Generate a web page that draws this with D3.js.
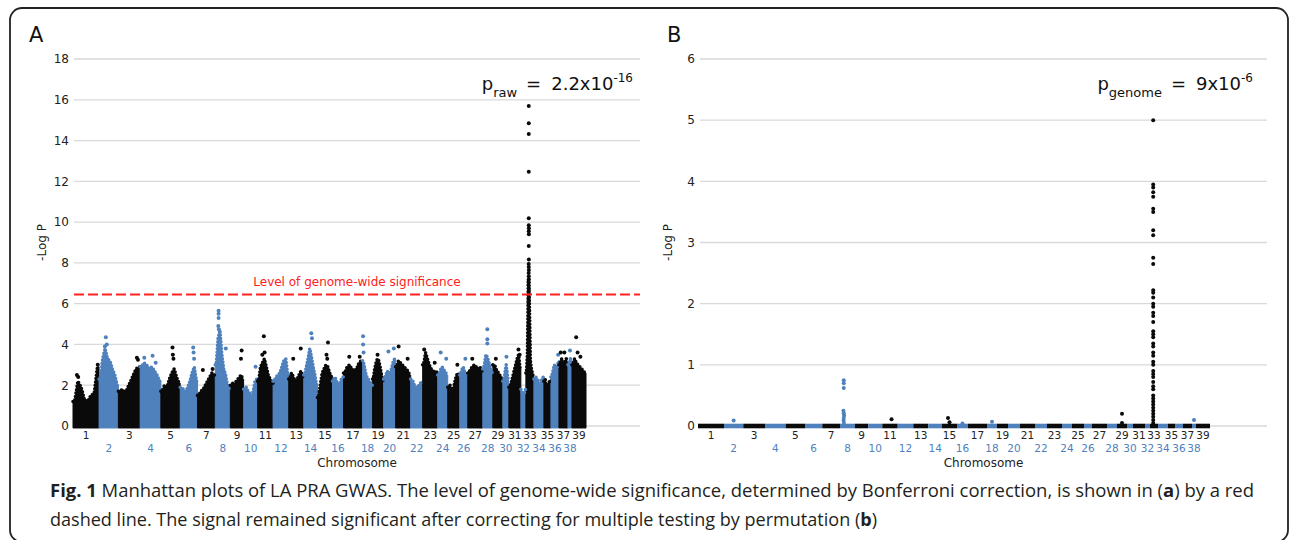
<!DOCTYPE html>
<html lang="en">
  <head>
    <meta charset="utf-8">
    <title>Manhattan plots of LA PRA GWAS</title>
    <style>
      body { margin: 0; background: #fff; }
      svg { display: block; }
      text { font-family: 'DejaVu Sans', Verdana, sans-serif; }
      .caption { font-family: 'Open Sans', 'Noto Sans', sans-serif; font-size: 17.5px; fill: #231f20; }
    </style>
  </head>
  <body>
    <div id="viz"></div>
    <script src="https://d3js.org/d3.v7.min.js"></script>
    <script>
      // chromosome names and their relative width on the genome axis (SNP span)
      const chromNames = d3.range(1, 40).map(String);
      const chromSize = [26, 19.3, 21.7, 20.7, 19.3, 17.3, 17.7, 15, 13.3, 14, 15.4, 15.6, 15, 13.7,
        15, 11, 19, 10, 11, 12, 15, 12, 15, 10, 12, 8, 15, 10, 10, 6, 12, 5, 8, 10, 7, 8, 9, 4, 14];

      // panel A: upper edge of the dense SNP cloud along each chromosome (-log P)
      const envA = [
        [1.2, 2.2, 1.9, 1.3, 1.2, 1.5, 1.6, 2.9],
        [2.3, 3.3, 3.8, 3.3, 3.2, 2.8, 2.5, 2.0],
        [1.7, 1.8, 1.6, 1.9, 2.2, 2.5, 2.8, 2.9],
        [2.9, 3.1, 3.0, 2.8, 2.9, 2.7, 2.5, 2.2],
        [1.7, 2.0, 1.9, 2.3, 2.6, 2.8, 2.4, 2.1],
        [1.9, 1.8, 1.7, 1.9, 2.2, 2.6, 2.9, 2.2],
        [1.5, 1.7, 1.8, 2.0, 2.2, 2.4, 2.6, 2.5],
        [3.0, 4.3, 4.7, 3.5, 2.8, 2.5, 2.0, 1.8],
        [2.0, 2.1, 2.0, 2.2, 2.3, 2.4, 2.5, 2.3],
        [1.8, 1.9, 1.7, 1.6, 1.5, 1.7, 2.2, 2.3],
        [2.2, 2.9, 3.1, 3.3, 2.9, 2.5, 2.3, 2.1],
        [2.2, 2.4, 2.5, 2.6, 2.9, 3.2, 3.3, 2.5],
        [2.3, 2.6, 2.4, 2.2, 2.3, 2.5, 2.7, 2.4],
        [2.5, 2.9, 3.3, 3.8, 3.4, 2.9, 2.5, 2.0],
        [1.4, 2.0, 2.6, 2.8, 3.0, 2.9, 2.6, 2.4],
        [2.2, 2.4, 2.3, 2.1, 2.0, 2.1, 2.3, 2.4],
        [2.6, 2.9, 3.0, 2.8, 2.7, 2.8, 3.1, 3.2],
        [3.2, 2.9, 2.6, 2.4, 2.3, 2.2, 2.1, 2.0],
        [2.3, 2.8, 3.1, 3.3, 3.2, 2.9, 2.5, 2.2],
        [2.3, 2.5, 2.7, 2.5, 2.6, 2.9, 3.2, 3.3],
        [2.9, 3.2, 3.1, 3.0, 2.9, 2.8, 2.7, 2.5],
        [2.3, 2.2, 2.0, 1.9, 1.9, 2.0, 2.1, 2.2],
        [3.0, 3.6, 3.3, 3.0, 2.8, 2.7, 2.6, 2.7],
        [2.5, 2.6, 2.8, 2.9, 2.8, 2.7, 2.6, 2.5],
        [1.9, 2.0, 1.8, 1.7, 2.1, 2.4, 2.6, 2.5],
        [2.5, 2.7, 2.8, 2.9, 2.7, 2.6, 2.5, 2.5],
        [2.6, 2.8, 2.9, 3.0, 2.9, 2.8, 2.9, 2.7],
        [2.8, 3.1, 3.5, 3.4, 3.2, 3.0, 2.8, 2.6],
        [3.0, 3.0, 2.8, 2.7, 2.6, 2.5, 2.4, 2.3],
        [2.2, 2.3, 2.5, 2.8, 3.0, 2.7, 2.4, 2.2],
        [1.9, 2.1, 2.4, 2.7, 3.0, 3.3, 3.5, 2.8],
        [1.8, 1.7, 1.6, 1.5, 1.5, 1.6, 1.7, 1.8],
        [2.6, 3.5, 7.2, 6.0, 3.2, 2.8, 2.6, 2.4],
        [2.3, 2.4, 2.3, 2.2, 2.1, 2.2, 2.3, 2.4],
        [2.2, 2.3, 2.0, 1.9, 2.0, 2.1, 2.2, 2.3],
        [2.4, 2.6, 2.8, 3.0, 2.9, 2.8, 2.9, 3.2],
        [3.0, 3.2, 3.3, 3.1, 3.0, 3.2, 3.3, 3.0],
        [3.0, 3.2, 3.3, 3.1],
        [3.0, 3.3, 3.1, 3.0, 2.9, 2.8, 2.7, 2.6]
      ];

      // panel A: single SNPs standing above the cloud [chromosome, position in chromosome 0-1, -log P]
      const hitsA = [
        [1, 0.15, 2.5], [1, 0.2, 2.4], [1, 0.95, 3.0],
        [2, 0.35, 4.35], [2, 0.4, 4.0], [2, 0.3, 3.9],
        [3, 0.85, 3.35], [3, 0.9, 3.25],
        [4, 0.2, 3.35], [4, 0.6, 3.45], [4, 0.75, 3.1],
        [5, 0.6, 3.85], [5, 0.62, 3.5], [5, 0.65, 3.3],
        [6, 0.75, 3.85], [6, 0.77, 3.6], [6, 0.8, 3.3],
        [7, 0.3, 2.75], [7, 0.85, 2.8],
        [8, 0.22, 5.65], [8, 0.22, 5.5], [8, 0.22, 5.3], [8, 0.2, 4.9], [8, 0.24, 4.75], [8, 0.7, 3.8],
        [9, 0.85, 3.7], [9, 0.8, 3.3],
        [10, 0.85, 2.9],
        [11, 0.4, 4.4], [11, 0.45, 3.6], [11, 0.3, 3.5],
        [13, 0.8, 3.8], [13, 0.3, 3.3],
        [14, 0.55, 4.55], [14, 0.6, 4.3],
        [15, 0.7, 4.1], [15, 0.6, 3.5], [15, 0.65, 3.3],
        [17, 0.3, 3.4], [17, 0.85, 3.4],
        [18, 0.05, 4.4], [18, 0.05, 4.0], [18, 0.1, 3.6],
        [19, 0.45, 3.5],
        [20, 0.4, 3.65], [20, 0.85, 3.8],
        [21, 0.2, 3.9], [21, 0.8, 3.3],
        [23, 0.1, 3.75], [23, 0.8, 3.1],
        [24, 0.3, 3.6], [24, 0.85, 3.3],
        [25, 0.8, 3.0],
        [26, 0.7, 3.3],
        [27, 0.3, 3.3],
        [28, 0.45, 4.75], [28, 0.45, 4.25], [28, 0.45, 4.05],
        [29, 0.3, 3.3],
        [30, 0.6, 3.4],
        [31, 0.8, 3.75], [31, 0.9, 3.5],
        [36, 0.9, 3.5],
        [37, 0.2, 3.6], [37, 0.6, 3.6],
        [38, 0.5, 3.7],
        [39, 0.3, 4.35], [39, 0.4, 3.6], [39, 0.6, 3.4],
        [33, 0.36, 15.69], [33, 0.36, 14.85], [33, 0.36, 14.32], [33, 0.36, 12.47], [33, 0.36, 10.19],
        [33, 0.36, 9.85], [33, 0.37, 9.7], [33, 0.36, 9.55], [33, 0.37, 9.4], [33, 0.36, 8.83],
        [33, 0.37, 8.17], [33, 0.35, 7.95], [33, 0.36, 7.8], [33, 0.37, 7.65], [33, 0.35, 7.5],
        [33, 0.36, 7.35], [33, 0.37, 7.2], [33, 0.36, 7.05], [33, 0.35, 6.9], [33, 0.37, 6.75],
        [33, 0.36, 6.6], [33, 0.35, 6.45], [33, 0.37, 6.3], [33, 0.36, 6.15], [33, 0.35, 6.0]
      ];

      // panel B: genome-wide (permutation) corrected -log P; nearly all SNPs sit at 0
      const chr33B = [5.0, 3.95, 3.9, 3.82, 3.75, 3.55, 3.5, 3.2, 3.12, 2.75, 2.65, 2.22, 2.18, 2.1, 2.0,
        1.95, 1.85, 1.8, 1.7, 1.55, 1.5, 1.45, 1.35, 1.3, 1.2, 1.15, 1.05, 1.0, 0.9, 0.85, 0.8, 0.72,
        0.65, 0.6, 0.5, 0.45, 0.4, 0.35, 0.3, 0.25, 0.2, 0.15, 0.1, 0.05];
      const hitsB = [
        [2, 0.5, 0.09],
        [8, 0.25, 0.75], [8, 0.25, 0.70], [8, 0.25, 0.62], [8, 0.23, 0.25], [8, 0.25, 0.21],
        [8, 0.27, 0.17], [8, 0.25, 0.13], [8, 0.24, 0.09], [8, 0.26, 0.05],
        [11, 0.6, 0.11], [15, 0.4, 0.13], [15, 0.5, 0.06], [16, 0.5, 0.04], [18, 0.5, 0.07],
        [29, 0.5, 0.2], [29, 0.5, 0.05], [38, 0.5, 0.1]
      ].concat(chr33B.map(v => [33, 0.4, v]));

      const yTicksA = d3.range(0, 19, 2);
      const yTicksB = d3.range(0, 7, 1);
      const sigLevel = 6.45;

      const black = "#0a0a0a", blue = "#4f81bd";
      const colorOf = i => (i % 2 === 0 ? black : blue);   // i is 0-based chromosome index

      const starts = chromSize.map((s, i) => d3.sum(chromSize.slice(0, i)));
      const total = d3.sum(chromSize);

      const svg = d3.select("#viz").append("svg")
        .attr("width", 1290).attr("height", 540);

      // figure frame
      svg.append("rect")
        .attr("x", 10).attr("y", 8).attr("width", 1278).attr("height", 534).attr("rx", 12)
        .attr("fill", "none").attr("stroke", "#222").attr("stroke-width", 1.8);

      function panel(o) {
        const g = svg.append("g");
        const x = d3.scaleLinear().domain([0, total]).range(o.xRange);
        const y = d3.scaleLinear().domain(o.yDomain).range([426, 59]);
        const pos = (c, p) => x(starts[c] + p * chromSize[c]);

        g.append("g").selectAll("line").data(o.yTicks).join("line")
          .attr("x1", o.gridX[0]).attr("x2", o.gridX[1])
          .attr("y1", d => y(d)).attr("y2", d => y(d))
          .attr("stroke", "#d9d9d9").attr("stroke-width", 1.3);

        g.append("g").selectAll("text").data(o.yTicks).join("text")
          .attr("x", o.gridX[0] - 5).attr("y", d => y(d)).attr("dy", "0.36em")
          .attr("text-anchor", "end").attr("font-size", 12).attr("fill", "#222")
          .text(d => d);

        g.append("text").attr("transform", `translate(${o.yLabelX},${(y.range()[0] + y.range()[1]) / 2}) rotate(-90)`)
          .attr("text-anchor", "middle").attr("font-size", 12).attr("fill", "#222").text("-Log P");

        g.append("text").attr("x", (o.gridX[0] + o.gridX[1]) / 2).attr("y", 467)
          .attr("text-anchor", "middle").attr("font-size", 12).attr("fill", "#222").text("Chromosome");

        g.append("text").attr("x", o.letterX).attr("y", 42).attr("font-size", 21).attr("fill", "#111").text(o.letter);

        g.append("g").selectAll("text").data(chromNames).join("text")
          .attr("x", (d, i) => pos(i, 0.5))
          .attr("y", (d, i) => (i % 2 === 0 ? 439 : 451.5))
          .attr("text-anchor", "middle").attr("font-size", 10.5)
          .attr("fill", (d, i) => (i % 2 === 0 ? "#222" : blue))
          .text(d => d);

        if (o.env) {
          const toPts = (env, c) => {
            const n = env.length;
            return [[pos(c, 0), env[0]]]
              .concat(env.map((v, j) => [pos(c, (j + 0.5) / n), v]))
              .concat([[pos(c, 1), env[n - 1]]]);
          };
          const area = d3.area().x(d => d[0]).y0(y(0) + 2).y1(d => y(d[1]));
          const top = d3.line().x(d => d[0]).y(d => y(d[1]));
          const cloud = g.append("g");
          cloud.selectAll("path.body").data(o.env).join("path")
            .attr("class", "body")
            .attr("d", (env, c) => area(toPts(env, c)))
            .attr("fill", (d, c) => colorOf(c))
            .attr("stroke", (d, c) => colorOf(c))
            .attr("stroke-width", 1).attr("stroke-linejoin", "round");
          // beaded edge so the cloud reads as stacked points
          cloud.selectAll("path.edge").data(o.env).join("path")
            .attr("class", "edge")
            .attr("d", (env, c) => top(toPts(env, c)))
            .attr("fill", "none")
            .attr("stroke", (d, c) => colorOf(c))
            .attr("stroke-width", 3.6).attr("stroke-linecap", "round")
            .attr("stroke-dasharray", "0,3.4");
        } else {
          g.append("g").selectAll("rect").data(chromSize).join("rect")
            .attr("x", (d, c) => pos(c, 0)).attr("width", (d, c) => pos(c, 1) - pos(c, 0))
            .attr("y", y(0) - 2.3).attr("height", 4.6)
            .attr("fill", (d, c) => colorOf(c));
        }

        g.append("g").selectAll("circle").data(o.hits).join("circle")
          .attr("cx", d => pos(d[0] - 1, d[1])).attr("cy", d => y(d[2])).attr("r", 2)
          .attr("fill", d => colorOf(d[0] - 1));

        if (o.sig) {
          g.append("line").attr("x1", o.gridX[0]).attr("x2", o.gridX[1])
            .attr("y1", y(o.sig)).attr("y2", y(o.sig))
            .attr("stroke", "#ff2020").attr("stroke-width", 2).attr("stroke-dasharray", "10,4");
          g.append("text").attr("x", 357).attr("y", y(o.sig) - 8).attr("text-anchor", "middle")
            .attr("font-size", 12).attr("fill", "#ff2020").text("Level of genome-wide significance");
        }

        const t = g.append("text").attr("x", o.pX).attr("y", 90).attr("text-anchor", "end").attr("fill", "#111");
        t.append("tspan").attr("font-size", 18).text("p");
        t.append("tspan").attr("font-size", 13).attr("dy", 7).text(o.pSub);
        t.append("tspan").attr("font-size", 18).attr("dy", -7).attr("dx", 9).text("=");
        t.append("tspan").attr("font-size", 18).attr("dx", 10).text(o.pVal);
        t.append("tspan").attr("font-size", 12).attr("dy", -8).text(o.pExp);
      }

      panel({ letter: "A", letterX: 29, xRange: [73, 586], gridX: [74, 640], yLabelX: 46,
        yDomain: [0, 18], yTicks: yTicksA, env: envA, hits: hitsA, sig: sigLevel,
        pX: 633, pSub: "raw", pVal: "2.2x10", pExp: "-16" });

      panel({ letter: "B", letterX: 667, xRange: [698, 1210], gridX: [700, 1267], yLabelX: 672,
        yDomain: [0, 6], yTicks: yTicksB, env: null, hits: hitsB, sig: null,
        pX: 1253, pSub: "genome", pVal: "9x10", pExp: "-6" });

      // caption
      const cap1 = svg.append("text").attr("class", "caption").attr("x", 50).attr("y", 497)
        .attr("textLength", 1204).attr("lengthAdjust", "spacingAndGlyphs");
      cap1.append("tspan").attr("font-weight", "bold").text("Fig. 1");
      cap1.append("tspan").text(" Manhattan plots of LA PRA GWAS. The level of genome-wide significance, determined by Bonferroni correction, is shown in (");
      cap1.append("tspan").attr("font-weight", "bold").text("a");
      cap1.append("tspan").text(") by a red");

      const cap2 = svg.append("text").attr("class", "caption").attr("x", 50).attr("y", 526)
        .attr("textLength", 827).attr("lengthAdjust", "spacingAndGlyphs");
      cap2.append("tspan").text("dashed line. The signal remained significant after correcting for multiple testing by permutation (");
      cap2.append("tspan").attr("font-weight", "bold").text("b");
      cap2.append("tspan").text(")");
    </script>
  </body>
</html>
